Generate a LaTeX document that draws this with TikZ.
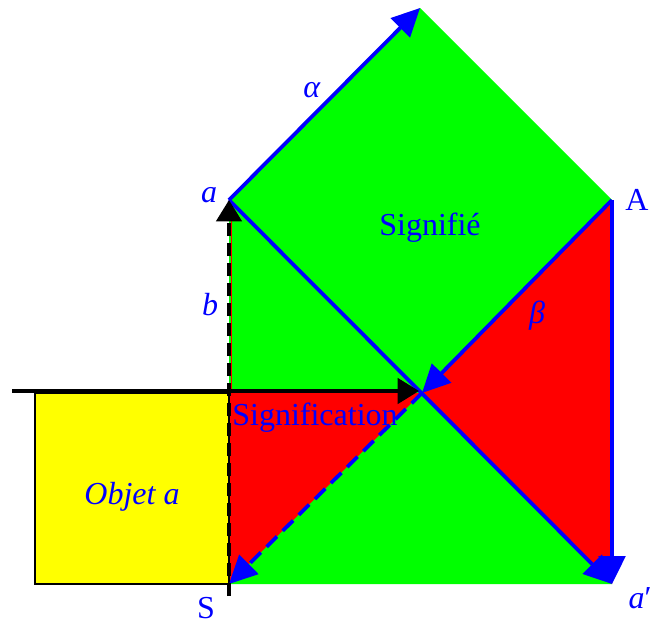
\documentclass[tikz,border=0pt]{standalone}
\usepackage{fontspec}
\setmainfont{Liberation Serif}
\usetikzlibrary{arrows.meta}
\definecolor{pgreen}{RGB}{0,255,0}
\definecolor{pred}{RGB}{255,0,0}
\definecolor{pyellow}{RGB}{255,255,0}
\definecolor{pblue}{RGB}{0,0,255}
\tikzset{
  lbl/.style={text=pblue, font=\fontsize{24}{28}\selectfont, inner sep=0pt},
  bline/.style={draw=pblue, line width=2.8pt},
  btip/.style={-{Triangle[length=21pt,width=20pt]}},
  ktip/.style={-{Triangle[length=16pt,width=19pt]}},
  kline/.style={draw=black, line width=2.6pt},
}
\begin{document}
\begin{tikzpicture}[x=0.75pt,y=-0.75pt]
\useasboundingbox (0,0) rectangle (654,625);
\coordinate (a) at (229,200);
\coordinate (T) at (420,8);
\coordinate (A) at (612,200);
\coordinate (X) at (422,393);
\coordinate (S) at (229,584);
\coordinate (ap) at (612,584);
\coordinate (L) at (229,393);
\coordinate (R) at (432,393);
\coordinate (H0) at (12,391);
\coordinate (H1) at (419,391);
\coordinate (V0) at (229,596);
% fills
\fill[pgreen] (a) -- (T) -- (A) -- (X) -- cycle;
\fill[pgreen] (a) -- (L) -- (X) -- cycle;
\fill[pred] (L) -- (R) -- (S) -- cycle;
\fill[pgreen] (S) -- (X) -- (ap) -- cycle;
\fill[pred] (A) -- (X) -- (ap) -- cycle;
\draw[line width=1.6pt, fill=pyellow] (35,393) rectangle (229,584);
\draw[pred, line width=0.8pt] (231.5,215) -- (231.5,393);
% blue connectors
\draw[bline, btip] (a) -- (T);
\draw[bline, btip] (a) -- (ap);
\draw[bline, btip] (A) -- (X);
\draw[bline, btip] (A) -- (ap);
\draw[bline, btip, dash pattern=on 11pt off 6pt] (X) -- (S);
% black connectors
\draw[kline, ktip] (H0) -- (H1);
\draw[kline, ktip, dash pattern=on 10pt off 5pt] (V0) -- (a);
% labels
\node[lbl] (la) at (209,195) {\textit{a}};
\node[lbl] (lb) at (210,305) {\textit{b}};
\node[lbl] (lalpha) at (312,90) {\textit{α}};
\node[lbl] (lsignifie) at (430,228) {Signifié};
\node[lbl] (lA) at (637,200) {A};
\node[lbl] (lbeta) at (537,316) {\textit{β}};
\node[lbl] (lsignification) at (315,418) {Signification};
\node[lbl] (lobjet) at (132,497) {\textit{Objet a}};
\node[lbl] (lS) at (206,608) {S};
\node[lbl, anchor=east] (lap) at (652,598) {\textit{a}′};
\end{tikzpicture}
\end{document}
